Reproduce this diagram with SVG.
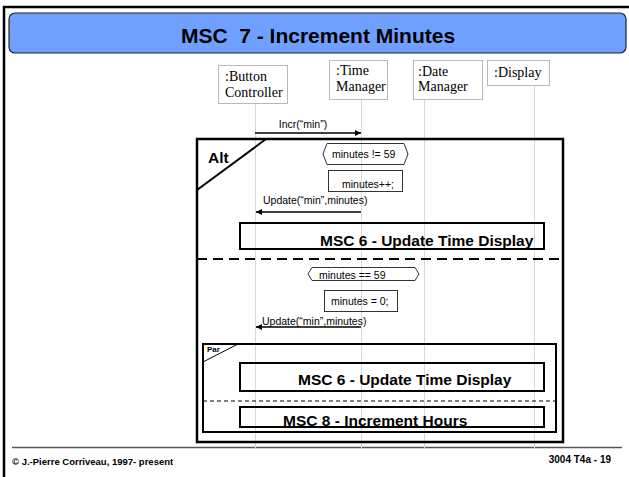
<svg xmlns="http://www.w3.org/2000/svg" width="629" height="477" viewBox="0 0 629 477">
<style>
.obj{fill:#fff;stroke:#b8b8b8;stroke-width:1}
.objt{font-family:"Liberation Serif",serif;font-size:14px;fill:#000}
.life{stroke:#d8d8d8;stroke-width:1;fill:none}
.msg{stroke:#000;stroke-width:1.6;fill:none}
.lbl{font-family:"Liberation Sans",Arial,sans-serif;font-size:10.5px;fill:#000}
.cond{fill:none;stroke:#333;stroke-width:1}
.ref{fill:none;stroke:#000;stroke-width:2}
.reft{font-family:"Liberation Sans",Arial,sans-serif;font-size:15.5px;font-weight:bold;fill:#000}
.frame{fill:none;stroke:#000;stroke-width:2.5}
</style>
<defs>
<marker id="ah" viewBox="0 0 10 10" refX="10" refY="5" markerWidth="7" markerHeight="6" markerUnits="userSpaceOnUse" orient="auto">
<path d="M0,0 L10,5 L0,10 z" fill="#000"/>
</marker>
</defs>
<rect width="629" height="477" fill="#fff"/>
<g id="page">
<path d="M4,477 L4,7 L629,7" fill="none" stroke="#000" stroke-width="2.5"/>
<rect x="9" y="13" width="617" height="40" rx="6" ry="6" fill="#6FA0FF" stroke="#222" stroke-width="1.2"/>
<text x="318" y="43" text-anchor="middle" font-family="Liberation Sans,Arial,sans-serif" font-size="21" font-weight="bold" xml:space="preserve">MSC  7 - Increment Minutes</text>
<line x1="12" y1="447.5" x2="622" y2="447.5" stroke="#555" stroke-width="1.3"/>
<text x="12" y="465" font-family="Liberation Sans,Arial,sans-serif" font-size="9.5" font-weight="bold">© J.-Pierre Corriveau, 1997- present</text>
<text x="611" y="463" text-anchor="end" font-family="Liberation Sans,Arial,sans-serif" font-size="10" font-weight="bold">3004 T4a - 19</text>
</g>
<g id="lifelines">
<line class="life" x1="255.5" y1="104" x2="255.5" y2="448"/>
<line class="life" x1="361.5" y1="100" x2="361.5" y2="448"/>
<line class="life" x1="424.5" y1="100" x2="424.5" y2="448"/>
<line class="life" x1="534.5" y1="86" x2="534.5" y2="448"/>
</g>
<g id="button-controller">
<rect class="obj" x="218.5" y="65.5" width="69" height="38"/>
<text class="objt" x="225" y="81">:Button</text>
<text class="objt" x="225" y="97">Controller</text>
</g>
<g id="time-manager">
<rect class="obj" x="329.5" y="60.5" width="58" height="39"/>
<text class="objt" x="336" y="75">:Time</text>
<text class="objt" x="336" y="91">Manager</text>
</g>
<g id="date-manager">
<rect class="obj" x="413.5" y="60.5" width="69" height="39"/>
<text class="objt" x="418" y="76">:Date</text>
<text class="objt" x="418" y="91">Manager</text>
</g>
<g id="display">
<rect class="obj" x="487.5" y="60.5" width="62" height="25"/>
<text class="objt" x="494" y="77">:Display</text>
</g>
<g id="alt-frame">
<rect class="frame" x="197" y="139" width="366" height="303"/>
<line x1="197" y1="190" x2="266" y2="139" stroke="#000" stroke-width="2"/>
<text x="208" y="163" font-family="Liberation Sans,Arial,sans-serif" font-size="15.5" font-weight="bold">Alt</text>
<line x1="197" y1="259" x2="563" y2="259" stroke="#000" stroke-width="2" stroke-dasharray="10,6"/>
</g>
<g id="cond-ne59">
<polygon class="cond" points="327,143.5 404,143.5 408,154 404,164.5 327,164.5 323,154"/>
<text class="lbl" x="332" y="158">minutes != 59</text>
</g>
<g id="act-incr">
<rect class="cond" x="328.5" y="170.5" width="74" height="21"/>
<text class="lbl" x="342" y="188">minutes++;</text>
</g>
<g id="ref-msc6-a">
<rect class="ref" x="240" y="223" width="304" height="26"/>
<text class="reft" x="320" y="246">MSC 6 - Update Time Display</text>
</g>
<g id="cond-eq59">
<polygon class="cond" points="312,267.5 415,267.5 419,274 415,280.5 312,280.5 308,274"/>
<text class="lbl" x="319" y="279">minutes == 59</text>
</g>
<g id="act-zero">
<rect class="cond" x="324.5" y="290.5" width="73" height="21"/>
<text class="lbl" x="331" y="305">minutes = 0;</text>
</g>
<g id="par-frame">
<rect x="203" y="344" width="353" height="88" fill="none" stroke="#000" stroke-width="2"/>
<line x1="203" y1="362" x2="238" y2="344" stroke="#000" stroke-width="1"/>
<text x="207" y="352" font-family="Liberation Sans,Arial,sans-serif" font-size="8" font-weight="bold">Par</text>
<line x1="203" y1="401" x2="556" y2="401" stroke="#000" stroke-width="1" stroke-dasharray="4,3"/>
</g>
<g id="ref-msc6-b">
<rect class="ref" x="240" y="363" width="304" height="28"/>
<text class="reft" x="298" y="385">MSC 6 - Update Time Display</text>
</g>
<g id="ref-msc8">
<rect class="ref" x="240" y="407" width="304" height="20"/>
<text class="reft" x="283" y="426">MSC 8 - Increment Hours</text>
</g>
<g id="connectors">
<line class="msg" x1="255" y1="133" x2="361" y2="133" marker-end="url(#ah)"/>
<text class="lbl" x="303" y="128" text-anchor="middle" font-size="9.5">Incr(“min”)</text>
<line class="msg" x1="361" y1="212" x2="256" y2="212" marker-end="url(#ah)"/>
<text class="lbl" x="263" y="204">Update(“min”,minutes)</text>
<line class="msg" x1="361" y1="327" x2="256" y2="327" marker-end="url(#ah)"/>
<text class="lbl" x="262" y="325">Update(“min”,minutes)</text>
</g>
</svg>
